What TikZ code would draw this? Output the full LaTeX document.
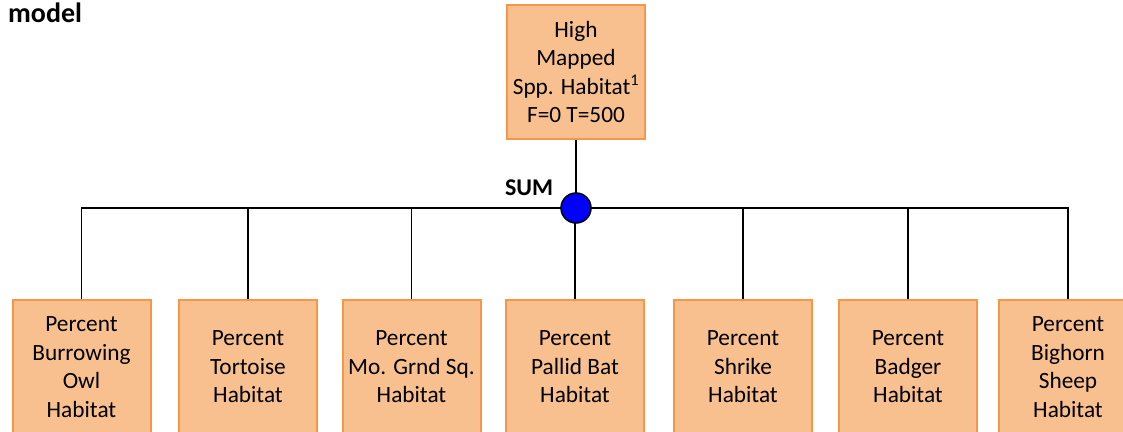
\documentclass[tikz,border=0pt]{standalone}
\usepackage{fontspec}
\setmainfont{Carlito}
\definecolor{boxfill}{HTML}{F9C08F}
\definecolor{boxdraw}{HTML}{F79646}
\definecolor{sumblue}{HTML}{0000FF}
\begin{document}
\begin{tikzpicture}[x=1pt,y=-1pt,
  box/.style={draw=boxdraw, line width=2pt, fill=boxfill, minimum width=138pt,
    minimum height=134pt, inner sep=0pt, align=center,
    font=\fontsize{23.3}{28.5}\selectfont},
  conn/.style={line width=1.8pt, draw=black},
  hubnode/.style={circle, draw=black, line width=1.5pt, fill=sumblue,
    minimum size=30pt, inner sep=0pt},
  boldlabel/.style={font=\bfseries\fontsize{24}{28}\selectfont, inner sep=0pt}]
\useasboundingbox (0,0) rectangle (1123,431);
\clip (0,0) rectangle (1123,431);
\node[boldlabel, font=\bfseries\fontsize{28}{32}\selectfont, anchor=base west] (model) at (8,22) {model};
\node[box] (top) at (576,72) {High\\Mapped\\Spp. Habitat\textsuperscript{1}\\F=0 T=500};
\node[box] (b1) at (81.5,367) {Percent\\Burrowing\\Owl\\Habitat};
\node[box] (b2) at (248,367) {Percent\\Tortoise\\Habitat};
\node[box] (b3) at (411.5,367) {Percent\\Mo. Grnd Sq.\\Habitat};
\node[box] (b4) at (575,367) {Percent\\Pallid Bat\\Habitat};
\node[box] (b5) at (743,367) {Percent\\Shrike\\Habitat};
\node[box] (b6) at (908,367) {Percent\\Badger\\Habitat};
\node[box] (b7) at (1068,367) {Percent\\Bighorn\\Sheep\\Habitat};
\coordinate (hub) at (576,208);
\draw[conn] (b1.north) -- (b1.north |- hub) -- (b7.north |- hub) -- (b7.north);
\foreach \b in {b2,b3,b4,b5,b6} {\draw[conn] (\b.north) -- (\b.north |- hub);}
\draw[conn] (top.south) -- (hub);
\node[hubnode] (sum) at (hub) {};
\node[boldlabel] (sumlabel) at (529,188) {SUM};
\end{tikzpicture}
\end{document}
